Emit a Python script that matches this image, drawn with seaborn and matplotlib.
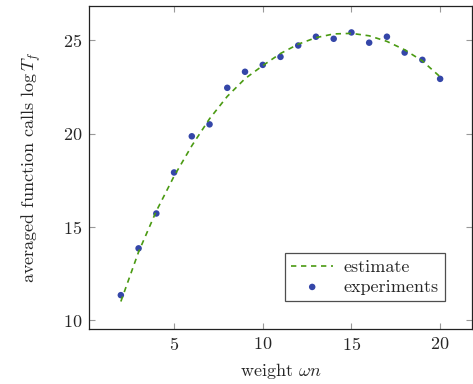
import numpy as np
import pandas as pd
import matplotlib
matplotlib.use('Agg')
import matplotlib.pyplot as plt
import seaborn as sns

weights = [2, 3, 4, 5, 6, 7, 8, 9, 10, 11, 12, 13, 14, 15, 16, 17, 18, 19, 20]
experiments = [11.34, 13.85, 15.72, 17.92, 19.86, 20.50, 22.46, 23.32, 23.69, 24.12,
               24.73, 25.20, 25.09, 25.43, 24.88, 25.20, 24.35, 23.96, 22.94]
estimate = [11.0, 13.66, 15.85, 17.72, 19.35, 20.8, 22.0, 22.95, 23.65, 24.3,
            24.8, 25.15, 25.35, 25.38, 25.25, 24.95, 24.5, 23.9, 23.05]

df = pd.DataFrame({'weight': weights, 'experiments': experiments, 'estimate': estimate})

sns.set_style('ticks')
plt.rcParams['font.family'] = 'serif'
plt.rcParams['font.serif'] = ['cmr10', 'DejaVu Serif']
plt.rcParams['mathtext.fontset'] = 'cm'
plt.rcParams['axes.formatter.use_mathtext'] = True
fs = 13

fig = plt.figure(figsize=(4.73, 3.84), dpi=100)
ax = fig.add_axes([0.188, 0.143, 0.810, 0.841])

sns.lineplot(x='weight', y='estimate', data=df, ax=ax, color='#4a9a12',
             linewidth=1.2, dashes=False, label='estimate')
ax.lines[0].set_dashes((3.2, 2.8))
sns.scatterplot(x='weight', y='experiments', data=df, ax=ax, color='#3446a8',
                s=22, edgecolor='none', label='experiments')

ax.set_xlim(0.2, 21.8)
ax.set_ylim(9.52, 26.84)
ax.set_xticks([5, 10, 15, 20])
ax.set_yticks([10, 15, 20, 25])
ax.tick_params(direction='in', length=4, width=0.8, color='#999999',
               top=True, right=True, labelsize=fs, pad=5)
for sp in ax.spines.values():
    sp.set_linewidth(0.9)
    sp.set_color('#222222')

ax.set_xlabel(r'weight $\omega n$', fontsize=fs, labelpad=6)
ax.set_ylabel(r'averaged function calls $\log T_f$', fontsize=fs, labelpad=14)

leg = ax.legend(loc='lower right', bbox_to_anchor=(0.93, 0.087),
                bbox_transform=ax.transAxes, borderaxespad=0,
                frameon=True, fancybox=False, edgecolor='#222222', fontsize=fs,
                handlelength=2.3, handletextpad=0.6, borderpad=0.35,
                labelspacing=0.2)
leg.get_frame().set_linewidth(0.9)

fig.savefig('out.png', dpi=100)
